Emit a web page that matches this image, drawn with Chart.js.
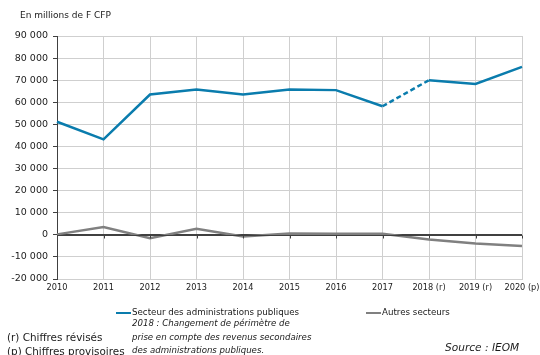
<!DOCTYPE html>
<html>
<head>
<meta charset="utf-8">
<script src="https://cdn.jsdelivr.net/npm/chart.js@4/dist/chart.umd.min.js"></script>
<style>
  html, body { margin: 0; padding: 0; background: #fff; }
  #wrap { position: relative; width: 540px; height: 355px; overflow: hidden; font-family: "DejaVu Sans", sans-serif; color: #1a1a1a; }
  #c { position: absolute; left: 0; top: 0; }
  .t { position: absolute; font-size: 9px; line-height: 13.5px; white-space: nowrap; }
  .i { font-style: italic; }
  .sw { position: absolute; height: 2.5px; }
</style>
</head>
<body>
<div id="wrap">
  <canvas id="c" width="540" height="355"></canvas>
  <div class="t" style="left:20px; top:9px;">En millions de F CFP</div>

  <div class="sw" style="left:116px; top:311.5px; width:15px; background:#0a7cad;"></div>
  <div class="t" style="left:132px; top:306px; font-size:8.7px;">Secteur des administrations publiques</div>
  <div class="sw" style="left:366px; top:311.5px; width:15px; background:#808080;"></div>
  <div class="t" style="left:382px; top:306px; font-size:8.7px;">Autres secteurs</div>

  <div class="t i" style="left:132px; top:317px; font-size:8.6px;">2018 : Changement de périmètre de<br>prise en compte des revenus secondaires<br>des administrations publiques.</div>
  <div class="t" style="left:7px; top:331px; font-size:10.4px;">(r) Chiffres révisés<br>(p) Chiffres provisoires</div>
  <div class="t i" style="left:445px; top:341px; font-size:10.6px;">Source : IEOM</div>
</div>
<script>
const categories = ['2010', '2011', '2012', '2013', '2014', '2015', '2016', '2017', '2018 (r)', '2019 (r)', '2020 (p)'];
const adminPubliques = [51200, 43200, 63500, 65800, 63500, 65800, 65500, 58200, 70000, 68300, 76000];
const autresSecteurs = [200, 3500, -1500, 2700, -800, 600, 500, 500, -2100, -3900, -5100];
const yTicks = [-20000, -10000, 0, 10000, 20000, 30000, 40000, 50000, 60000, 70000, 80000, 90000];

const fmt = v => {
  const s = Math.abs(v).toString().replace(/\B(?=(\d{3})+(?!\d))/g, ' ');
  return (v < 0 ? '-' : '') + s;
};

// short tick marks hanging below the zero line at each category
const zeroTicks = {
  id: 'zeroTicks',
  afterDatasetsDraw(chart) {
    const { ctx, scales: { x, y } } = chart;
    const y0 = Math.round(y.getPixelForValue(0)) + 0.5;
    ctx.save();
    ctx.strokeStyle = '#404040';
    ctx.lineWidth = 1;
    ctx.beginPath();
    ctx.moveTo(x.left, y0);
    ctx.lineTo(x.right, y0);
    categories.forEach((_, i) => {
      const px = Math.round(x.getPixelForValue(i)) + 0.5;
      ctx.moveTo(px, y0);
      ctx.lineTo(px, y0 + 3);
    });
    ctx.stroke();
    ctx.restore();
  }
};

Chart.defaults.font.family = '"DejaVu Sans", sans-serif';
Chart.defaults.font.size = 9;
Chart.defaults.color = '#1a1a1a';

new Chart(document.getElementById('c'), {
  type: 'line',
  data: {
    labels: categories,
    datasets: [
      {
        label: 'Secteur des administrations publiques',
        data: adminPubliques,
        borderColor: '#0a7cad',
        borderWidth: 2.5,
        pointRadius: 0,
        tension: 0,
        segment: {
          borderDash: ctx => ctx.p0DataIndex === 7 ? [5, 3] : undefined
        }
      },
      {
        label: 'Autres secteurs',
        data: autresSecteurs,
        borderColor: '#808080',
        borderWidth: 2.5,
        pointRadius: 0,
        tension: 0
      }
    ]
  },
  options: {
    responsive: false,
    animation: false,
    layout: { padding: { top: 36, right: 18, bottom: 56, left: 0 } },
    plugins: { legend: { display: false }, tooltip: { enabled: false } },
    scales: {
      x: {
        offset: false,
        grid: { color: '#cfcfcf', lineWidth: 1, drawTicks: false },
        border: { color: '#cfcfcf' },
        ticks: {
          padding: 4, maxRotation: 0, autoSkip: false,
          font: { size: 8.2 }
        },
        afterFit: s => { s.height = 20; s.paddingLeft = 0; s.paddingRight = 0; }
      },
      y: {
        min: -20000,
        max: 90000,
        afterBuildTicks: s => { s.ticks = yTicks.map(v => ({ value: v })); },
        grid: {
          color: c => c.tick && c.tick.value === 0 ? '#404040' : '#cfcfcf',
          tickColor: '#404040',
          tickLength: 4
        },
        border: { color: '#404040', width: 1 },
        ticks: { padding: 5, callback: v => fmt(v), font: { size: 9.5 } },
        afterFit: s => { s.width = 57; s.paddingTop = 0; s.paddingBottom = 0; }
      }
    }
  },
  plugins: [zeroTicks]
});
</script>
</body>
</html>
